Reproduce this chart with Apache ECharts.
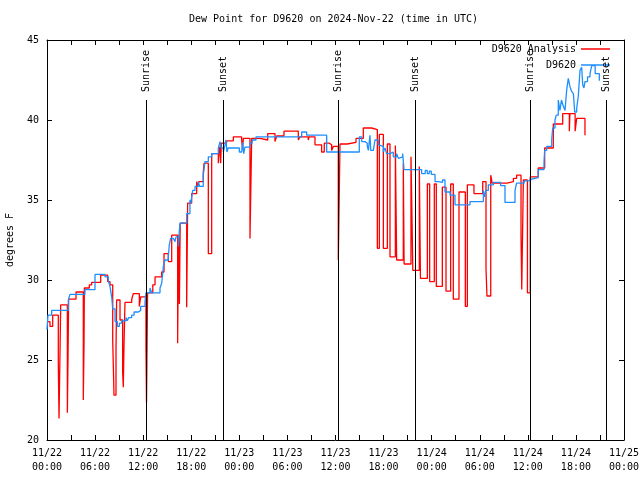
<!DOCTYPE html>
<html><head><meta charset="utf-8">
<script src="https://cdn.jsdelivr.net/npm/echarts@6/dist/echarts.min.js"></script>
<style>html,body{margin:0;padding:0;background:#fff}#c{width:640px;height:480px}</style>
</head><body><div id="c"></div>
<script>
// Time in hours since 2024-11-22 00:00 UTC
const analysisHours = [0.00,0.37,0.71,1.41,1.50,1.71,2.25,2.45,2.54,2.62,2.70,3.62,4.53,4.62,4.66,5.28,5.57,6.70,7.57,7.86,8.20,8.36,8.61,8.69,9.11,9.44,9.52,9.61,9.73,10.57,10.77,11.52,11.69,12.35,12.42,12.55,13.20,13.48,14.31,14.60,15.14,15.56,16.30,16.42,16.52,16.62,17.43,17.55,18.05,18.68,18.80,18.95,19.50,19.60,20.13,20.55,21.38,21.45,21.59,21.67,21.75,22.40,23.25,24.29,24.40,24.50,25.33,25.54,26.58,27.54,28.45,28.66,29.57,31.36,31.57,32.60,32.70,33.44,34.27,34.60,35.23,35.52,35.73,36.35,36.56,37.47,38.56,39.47,40.51,41.22,41.47,41.97,42.47,42.80,43.47,43.63,44.46,44.56,45.42,45.65,46.46,46.60,47.46,47.75,48.33,48.58,49.33,49.79,50.37,50.70,51.41,52.20,52.45,53.28,54.37,54.78,54.90,55.37,55.55,57.40,58.20,58.60,59.15,59.24,59.44,59.95,60.30,61.30,62.10,63.18,64.35,65.18,65.25,65.90,66.10,67.13];
const analysisValues = [27.4,27.1,27.8,24.8,21.35,28.45,28.55,28.45,21.7,25.0,28.8,29.25,22.5,26.0,29.5,29.7,29.85,30.3,29.9,29.7,26.25,22.8,25.7,28.75,27.5,24.2,23.3,25.9,28.6,28.8,29.15,28.35,28.95,25.8,22.35,29.2,29.7,30.2,30.5,31.65,31.15,32.8,26.05,32.8,28.5,33.55,28.3,34.8,35.4,36.15,35.85,36.15,36.75,37.3,31.65,37.9,37.3,37.9,38.35,37.3,38.55,38.7,38.95,38.75,38.2,38.85,32.6,38.85,38.75,39.15,38.65,39.0,39.3,38.75,38.95,38.75,38.95,38.45,38.0,38.55,38.45,38.1,38.35,31.25,38.5,38.6,38.85,39.5,39.4,31.98,39.1,31.98,38.5,31.45,38.4,31.25,37.3,31.0,37.7,30.6,37.1,30.1,36.0,29.9,36.0,29.6,35.8,29.3,36.0,28.8,35.5,28.35,35.95,35.4,36.15,30.7,29.0,36.55,36.05,36.15,36.35,36.55,32.8,29.4,36.25,29.2,36.45,37.0,38.25,39.75,40.4,39.3,40.4,39.3,40.1,39.05];

const obsHours = [0.00,0.12,0.58,2.66,2.87,4.74,5.99,7.24,7.65,7.86,8.07,8.20,8.49,8.78,9.03,9.32,9.86,10.02,10.19,10.57,10.86,11.40,11.69,12.23,12.35,12.85,13.06,14.10,14.31,14.52,14.72,15.14,15.26,15.43,15.76,15.97,16.10,16.39,16.45,16.60,17.43,17.84,17.95,18.18,18.47,18.88,19.05,19.50,19.71,20.13,20.55,21.38,21.59,21.75,22.00,22.20,22.34,22.45,22.60,24.00,24.29,24.40,24.55,24.70,25.33,25.60,26.08,31.78,32.40,34.90,38.97,39.27,39.68,39.97,40.10,40.30,40.40,40.72,40.93,41.34,41.55,41.97,42.18,42.38,42.80,43.21,43.63,43.84,44.05,44.38,44.55,46.75,47.20,47.45,47.70,47.95,48.42,48.90,49.10,49.35,49.66,50.30,50.91,52.78,54.45,54.60,54.75,55.07,55.70,56.60,57.15,58.40,58.60,59.55,60.10,60.48,61.30,62.02,62.10,62.35,62.98,63.10,63.39,63.55,63.80,64.00,64.20,64.40,64.64,64.85,65.05,65.25,65.45,65.68,65.85,66.10,66.30,66.51,66.72,66.85,67.00,67.13,67.45,67.76,67.97,68.40,68.92];
const obsValues = [26.9,27.8,28.1,28.75,29.1,29.4,30.35,30.2,29.95,29.6,28.95,28.2,27.4,27.1,27.3,27.45,27.65,27.45,27.65,27.8,28.0,28.1,28.35,28.6,29.2,29.5,29.2,29.5,29.8,30.85,31.25,31.45,32.2,32.6,32.7,32.4,32.7,32.1,32.7,33.55,34.15,35.0,34.8,35.6,35.85,36.15,35.85,36.55,37.4,37.7,37.9,38.25,38.65,38.25,38.0,38.4,38.75,38.0,38.25,38.0,37.9,38.6,37.9,38.3,38.55,38.75,38.95,39.25,39.05,38.0,38.95,38.65,38.55,38.35,38.1,39.05,38.1,38.15,38.75,38.45,38.35,38.0,38.25,37.9,38.0,37.7,37.9,37.6,37.7,37.9,36.9,36.65,36.85,36.65,36.8,36.6,36.15,36.25,36.1,36.25,35.5,35.3,34.7,34.9,35.6,35.2,35.6,35.95,36.1,35.9,34.85,35.6,36.05,36.2,36.3,36.4,36.9,37.4,38.1,38.35,38.75,39.5,40.0,40.3,41.25,40.6,41.25,40.9,40.6,41.9,42.6,42.1,41.8,41.65,40.5,40.75,41.5,43.1,43.3,42.2,42.0,42.4,42.7,42.9,43.4,42.9,42.45];

const sunriseHours = [12.37, 36.35, 60.33];
const sunsetHours = [21.98, 45.95, 69.84];
const sunLineTop = 41.25;

const FONT = 'DejaVu Sans Mono';
const zip = (a, b) => a.map((v, i) => [v, b[i]]);

function fmtX(h) {
  if (h % 6 !== 0) return '';
  const d = 22 + Math.floor(h / 24);
  const hh = h % 24;
  return '11/' + d + '\n' + String(hh).padStart(2, '0') + ':00';
}

function sunMark(t, name) {
  return [
    [{coord: [t, 20], lineStyle: {color: '#000', width: 1, type: 'solid'}, label: {show: false}}, {coord: [t, sunLineTop]}],
    [{coord: [t, sunLineTop], name: name, lineStyle: {color: 'rgba(0,0,0,0)', width: 1}, label: {show: true, position: 'insideStart', distance: 8, formatter: name, color: '#000', fontFamily: FONT, fontSize: 10}}, {coord: [t, 45]}]
  ];
}
const markData = [];
sunriseHours.forEach(t => markData.push(...sunMark(t, 'Sunrise')));
sunsetHours.forEach(t => markData.push(...sunMark(t, 'Sunset')));

const axisCommonX = {
  type: 'value', min: 0, max: 72, interval: 3,
  axisLine: {show: true, onZero: false, lineStyle: {color: '#000', width: 1}},
  axisTick: {show: true, inside: true, length: 5, lineStyle: {color: '#000', width: 1}},
  splitLine: {show: false}
};
const axisCommonY = {
  type: 'value', min: 20, max: 45, interval: 5,
  axisLine: {show: true, onZero: false, lineStyle: {color: '#000', width: 1}},
  axisTick: {show: true, inside: true, length: 5, lineStyle: {color: '#000', width: 1}},
  splitLine: {show: false}
};

const chart = echarts.init(document.getElementById('c'));
chart.setOption({
  animation: false,
  backgroundColor: '#fff',
  title: {
    text: 'Dew Point for D9620 on 2024-Nov-22 (time in UTC)',
    left: 189, top: 14, padding: 0,
    textStyle: {fontFamily: FONT, fontSize: 10, fontWeight: 'normal', color: '#000'}
  },
  legend: {
    data: ['D9620 Analysis', 'D9620'],
    orient: 'vertical', right: 25, top: 39, align: 'right',
    icon: 'rect', itemWidth: 29, itemHeight: 1.5, itemGap: 6,
    textStyle: {fontFamily: FONT, fontSize: 10, color: '#000'}
  },
  grid: {left: 47, right: 16, top: 40, bottom: 40, containLabel: false, outerBoundsMode: 'none'},
  xAxis: [
    Object.assign({}, axisCommonX, {position: 'bottom',
      axisLabel: {formatter: fmtX, fontFamily: FONT, fontSize: 10, color: '#000', margin: 6, lineHeight: 14, showMinLabel: true, showMaxLabel: true}}),
    Object.assign({}, axisCommonX, {position: 'top', axisLabel: {show: false}})
  ],
  yAxis: [
    Object.assign({}, axisCommonY, {position: 'left',
      name: 'degrees F', nameLocation: 'middle', nameGap: 32,
      nameTextStyle: {fontFamily: FONT, fontSize: 10, color: '#000'},
      axisLabel: {fontFamily: FONT, fontSize: 10, color: '#000', margin: 8}}),
    Object.assign({}, axisCommonY, {position: 'right', axisLabel: {show: false}})
  ],
  series: [
    {name: 'D9620 Analysis', type: 'line', step: 'end', symbol: 'none', showSymbol: false,
     data: zip(analysisHours, analysisValues), z: 2,
     lineStyle: {color: '#ff0000', width: 1.3}, itemStyle: {color: '#ff0000'}},
    {name: 'D9620', type: 'line', step: 'end', symbol: 'none', showSymbol: false,
     data: zip(obsHours, obsValues), z: 3,
     lineStyle: {color: '#1e8fff', width: 1.3}, itemStyle: {color: '#1e8fff'}},
    {name: 'sun', type: 'line', data: [], z: 4, silent: true,
     markLine: {silent: true, animation: false, symbol: ['none', 'none'], data: markData}}
  ]
});
</script>
</body></html>
